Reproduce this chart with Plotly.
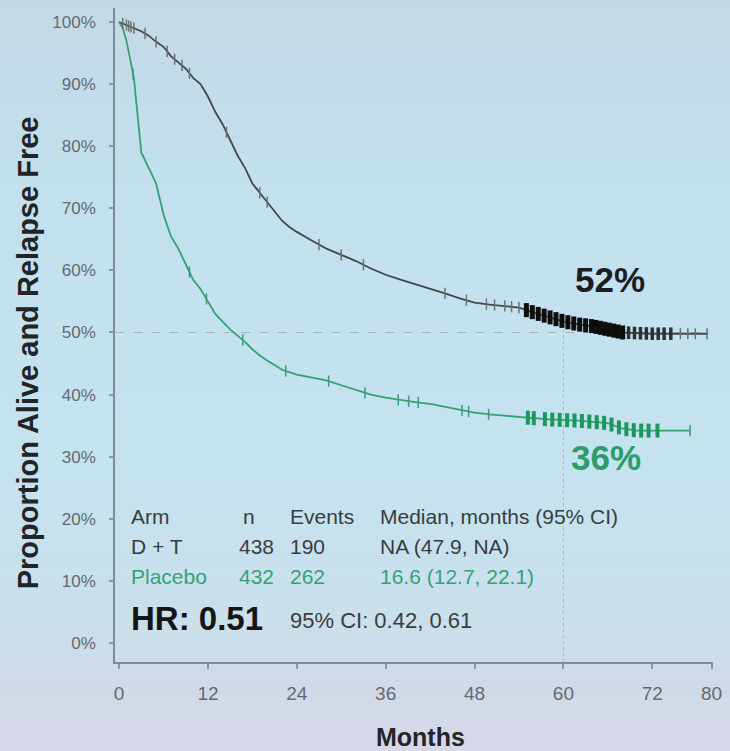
import numpy as np
import plotly.graph_objects as go

# ---------------- data ----------------
dt_months = [0, 1, 2, 3, 4, 5, 6, 7, 8, 9, 10, 11, 12, 13, 14, 15, 16, 17, 18, 19, 20,
             21, 22, 23, 24, 26, 28, 30, 32, 34, 36, 38, 40, 42, 44, 46, 48, 50, 52, 54,
             56, 58, 60, 62, 64, 66, 68, 72, 79.5]
dt_surv = [100, 99.5, 99, 98.5, 97.8, 96.8, 96, 94.5, 93.5, 92.5, 91, 90, 88, 85.5, 83.5,
           81, 78.5, 76.5, 74, 72.5, 71, 69.5, 68, 67, 66.2, 64.8, 63.5, 62.5, 61.5, 60.3,
           59.3, 58.5, 57.8, 57, 56.3, 55.5, 54.8, 54.5, 54.3, 54.0, 53.2, 52.5, 51.8, 51.3,
           51, 50.5, 50, 49.8, 49.8]

pl_months = [0, 0.5, 1, 1.5, 2, 2.5, 3, 4, 5, 6, 7, 8, 9, 10, 11, 12, 13, 14, 15, 16, 17,
             18, 19, 20, 21, 22, 24, 26, 28, 30, 32, 34, 36, 38, 40, 42, 44, 46, 48, 50, 52,
             55, 58, 62, 66, 68, 70, 77]
pl_surv = [100, 99, 97, 94, 91, 85, 79, 76.5, 74, 69, 65.5, 63.5, 61, 58.5, 57, 55, 53,
           51.7, 50.5, 49.5, 48.5, 47.3, 46.3, 45.5, 44.8, 44, 43.2, 42.8, 42.3, 41.5, 40.7,
           40, 39.5, 39.1, 38.8, 38.5, 38, 37.5, 37.1, 36.8, 36.6, 36.3, 36, 35.8, 35.4, 34.5,
           34.2, 34.2]

dt_cens_light = [0.5, 1, 1.3, 1.6, 2, 3.5, 5, 6.5, 7.5, 8.5, 9.5, 14.5, 19, 20, 27, 30, 33,
                 44, 46.9, 49.6, 50.7, 52.1, 53, 54, 75.8, 76.8, 77.8, 79.4]
dt_cens_bold = [55, 55.8, 56.6, 57.4, 58.2, 59, 59.8, 60.6, 61.4, 62.2, 63, 63.8, 64.4,
                65, 65.6, 66.2, 66.8, 67.4, 68]
dt_cens_mid = [68.8, 69.6, 70.4, 71.2, 72, 72.8, 73.6, 74.5]

pl_cens_light = [1.9, 9.5, 11.8, 16.7, 22.5, 28.3, 33.2, 37.7, 39.1, 40.4, 46.3, 47.2,
                 49.9, 77.1]
pl_cens_bold = [55.2, 56, 57.5, 58.5, 59.5, 60.5, 61.5, 62.5, 63.5, 64.5, 65.5, 66.5,
                67.5, 68.5, 69.5, 70.5, 71.5, 72.7]

x_ticks = [0, 12, 24, 36, 48, 60, 72, 80]
y_ticks = [0, 10, 20, 30, 40, 50, 60, 70, 80, 90, 100]
y_tick_labels = [f"{v}%" for v in y_ticks]

table_header = ["Arm", "n", "Events", "Median, months (95% CI)"]
row_dt = ["D + T", "438", "190", "NA (47.9, NA)"]
row_pl = ["Placebo", "432", "262", "16.6 (12.7, 22.1)"]
hr_text = "HR: 0.51"
hr_ci = "95% CI: 0.42, 0.61"
dt_label = "52%"
pl_label = "36%"

# ---------------- styles ----------------
DT_COLOR = "#45484b"
PL_COLOR = "#35a274"
TXT = "#3a3d40"
TICK = "#646a6f"
FONT = "Liberation Sans, Arial, sans-serif"

fig = go.Figure()

# background gradient bands (style only)
def hex2rgb(h):
    h = h.lstrip("#")
    return [int(h[i:i + 2], 16) for i in (0, 2, 4)]

stops = [(0, "#c4d9e6"), (200, "#c2e0ed"), (450, "#c4e3ef"), (610, "#c9e0eb"),
         (690, "#d1d9e7"), (751, "#d6d8e8")]
H = 751
top_px, bot_px = 8, 662
def px2paper(py):
    return (bot_px - py) / (bot_px - top_px)

band = 6
for py in range(0, H, band):
    mid = py + band / 2
    for (p0, c0), (p1, c1) in zip(stops[:-1], stops[1:]):
        if p0 <= mid <= p1:
            f = (mid - p0) / (p1 - p0)
            a, b = hex2rgb(c0), hex2rgb(c1)
            col = "rgb(%d,%d,%d)" % tuple(round(a[i] + (b[i] - a[i]) * f) for i in range(3))
            break
    fig.add_shape(type="rect", xref="paper", yref="paper", x0=-0.3, x1=1.1,
                  y0=px2paper(py + band + 0.5), y1=px2paper(py), fillcolor=col,
                  line_width=0, layer="below")

# reference lines
fig.add_shape(type="line", xref="x", yref="y", x0=-0.5, x1=79.5, y0=50, y1=50,
              line=dict(color="#a9b4bc", width=1.2, dash="dash"), layer="below")
fig.add_shape(type="line", xref="x", yref="y", x0=60, x1=60, y0=-3.06, y1=51,
              line=dict(color="#a9b4bc", width=1, dash="dot"), layer="below")

# curves
fig.add_trace(go.Scatter(x=dt_months, y=dt_surv, mode="lines",
                         line=dict(color=DT_COLOR, width=1.8), showlegend=False))
fig.add_trace(go.Scatter(x=pl_months, y=pl_surv, mode="lines",
                         line=dict(color=PL_COLOR, width=1.8), showlegend=False))

# censor marks
def cens(times, surv, ct, color, size, width):
    fig.add_trace(go.Scatter(x=ct, y=np.interp(ct, times, surv), mode="markers",
                             marker=dict(symbol="line-ns-open", size=size, color=color,
                                         line=dict(color=color, width=width)),
                             showlegend=False))

cens(dt_months, dt_surv, dt_cens_light, "#6d7175", 8, 1.5)
cens(dt_months, dt_surv, dt_cens_mid, "#2e3033", 9, 3.5)
cens(dt_months, dt_surv, dt_cens_bold, "#0d0d0d", 10, 5)
cens(pl_months, pl_surv, pl_cens_light, "#3f9b72", 8, 1.5)
cens(pl_months, pl_surv, pl_cens_bold, "#1d9760", 10, 4)

# labels
fig.add_annotation(x=66.3, y=58.5, text="<b>" + dt_label + "</b>", showarrow=False,
                   font=dict(family=FONT, size=35, color="#1c1d1f"))
fig.add_annotation(x=65.8, y=29.9, text="<b>" + pl_label + "</b>", showarrow=False,
                   font=dict(family=FONT, size=35, color="#2a9d68"))

# table
rows = [(20.3, table_header, TXT), (15.5, row_dt, TXT), (10.7, row_pl, PL_COLOR)]
for y, row, color in rows:
    for i, txt in enumerate(row):
        if i == 0:
            x, anc = 1.4, "left"
        elif i == 1:
            x, anc = (17.6, "center") if row is table_header else (21.2, "right")
        elif i == 2:
            x, anc = 22.8, "left"
        else:
            x, anc = 35.0, "left"
        fig.add_annotation(x=x, y=y, text=txt, showarrow=False, xanchor=anc,
                           font=dict(family=FONT, size=21, color=color))
fig.add_annotation(x=1.4, y=4.0, text="<b>" + hr_text + "</b>", showarrow=False, xanchor="left",
                   font=dict(family=FONT, size=33, color="#141517"))
fig.add_annotation(x=22.8, y=3.7, text=hr_ci, showarrow=False, xanchor="left",
                   font=dict(family=FONT, size=22, color=TXT))

# axis titles
fig.add_annotation(xref="paper", yref="paper", x=-0.145, y=0.4725, xanchor="center", yanchor="middle",
                   text="<b>Proportion Alive and Relapse Free</b>",
                   textangle=-90, showarrow=False, font=dict(family=FONT, size=29, color="#222426"))
fig.add_annotation(xref="paper", yref="paper", x=0.511, y=-0.1147, xanchor="center", yanchor="middle",
                   text="<b>Months</b>",
                   showarrow=False, font=dict(family=FONT, size=25, color="#222426"))

fig.update_xaxes(range=[-0.55, 80.2], tickvals=x_ticks, ticktext=[str(v) for v in x_ticks],
                 showgrid=False, zeroline=False, showline=True, linecolor="#7d8c96", linewidth=1.5,
                 ticks="outside", ticklen=5, tickcolor="#8a98a2", tickwidth=1.5,
                 tickfont=dict(family=FONT, size=19, color=TICK), ticklabelstandoff=8)
fig.update_yaxes(range=[-3.06, 102.25], tickvals=y_ticks, ticktext=y_tick_labels,
                 showgrid=False, zeroline=False, showline=True, linecolor="#7d8c96", linewidth=1.5,
                 ticks="outside", ticklen=4, tickcolor="#8a98a2", tickwidth=1.5,
                 tickfont=dict(family=FONT, size=17, color=TICK), ticklabelstandoff=10)

fig.update_layout(width=730, height=751, margin=dict(l=115, r=14, t=8, b=89),
                  paper_bgcolor="#c6dfeb", plot_bgcolor="rgba(0,0,0,0)", showlegend=False)

fig.write_html("out.html")
